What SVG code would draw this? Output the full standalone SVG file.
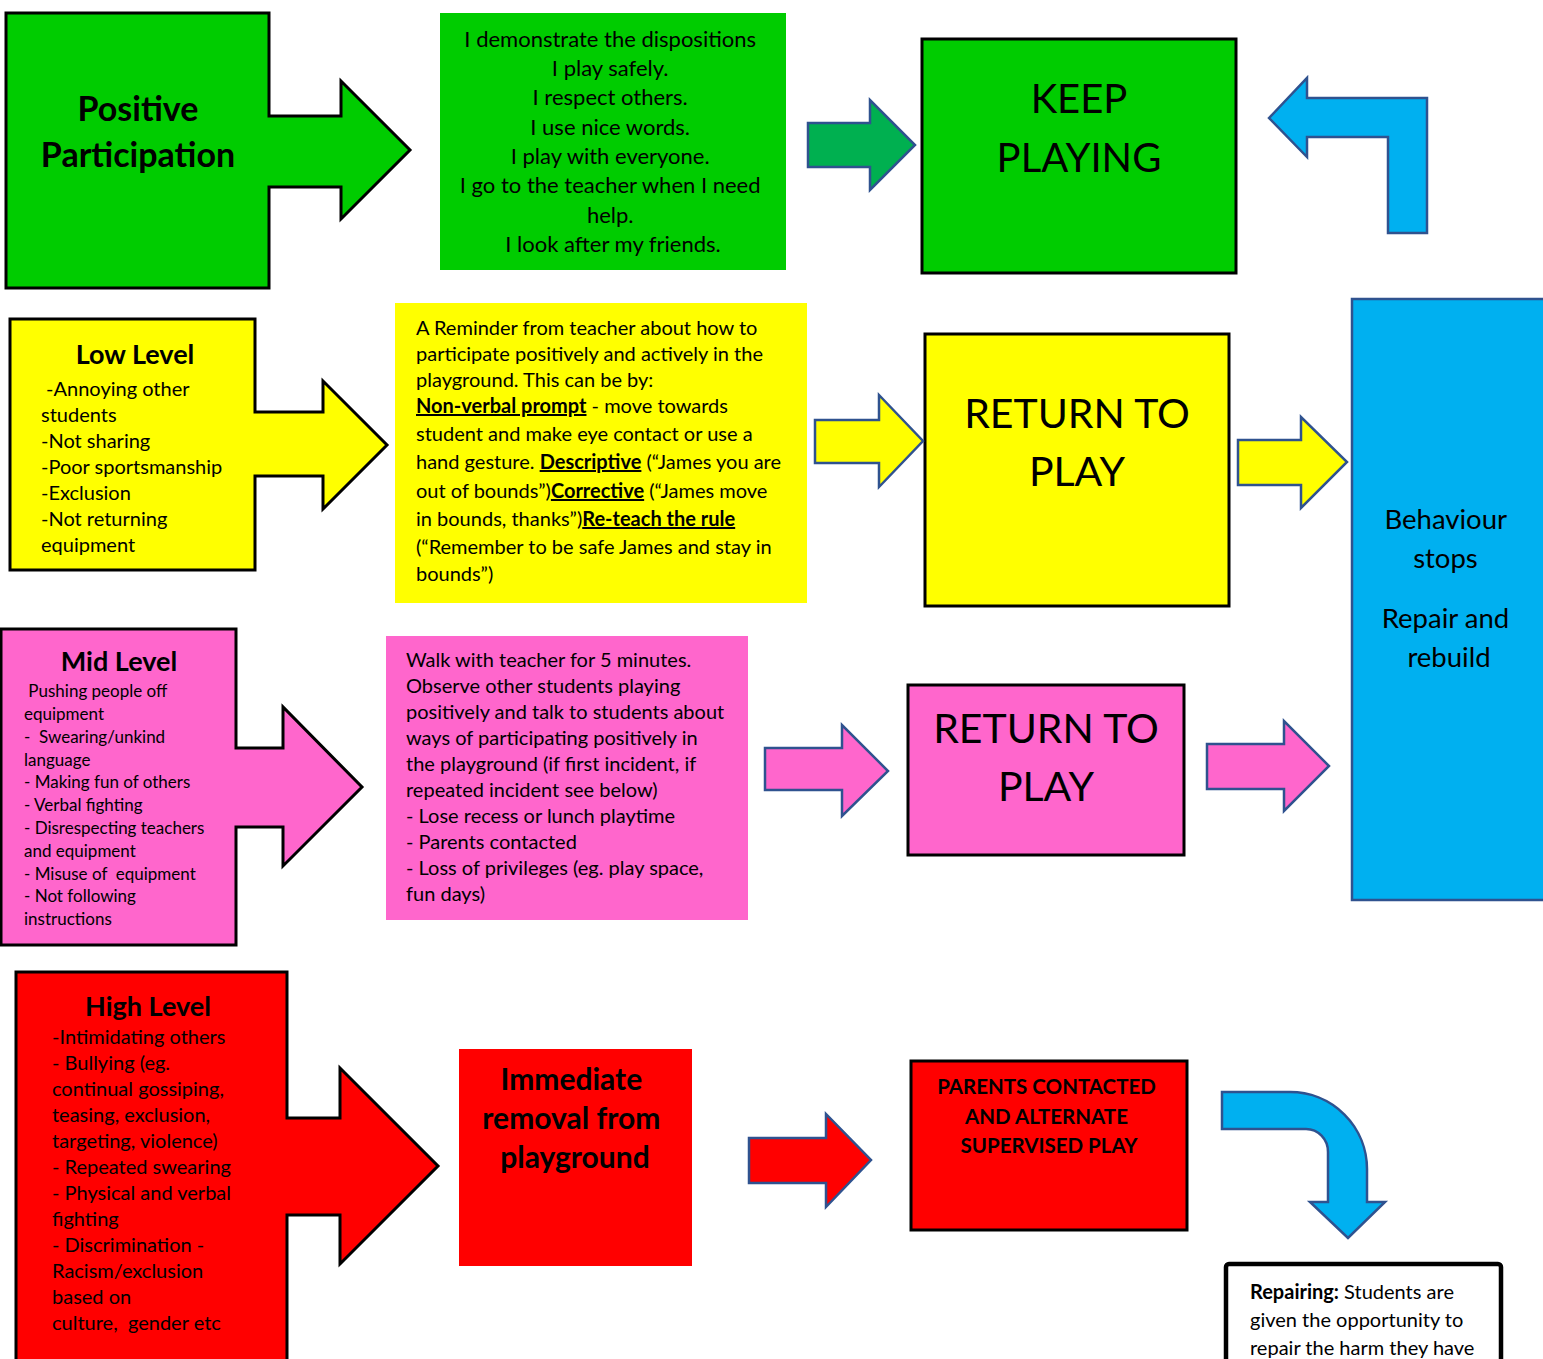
<svg xmlns="http://www.w3.org/2000/svg" width="1543" height="1359" viewBox="0 0 1543 1359">
<style>
text{font-family:Lato,"Liberation Sans",sans-serif;fill:#000}
.b{font-weight:bold}
.c{text-anchor:middle}
.blk{stroke:#000;stroke-width:3}
.arr{stroke:#2F528F;stroke-width:2.5}
.g{fill:#00CC00}.y{fill:#FFFF00}.p{fill:#FF66CC}.r{fill:#FF0000}.bl{fill:#00B0F0}
.s20{font-size:20px}.s17{font-size:17px}
.big{font-size:41px}
.u{text-decoration:underline;font-weight:bold}
</style>
<rect width="1543" height="1359" fill="#fff"/>

<g id="positive">
<path class="g blk" d="M6,13 H269 V116 H341 V81 L410,150 L341,219 V187 H269 V288 H6 Z"/>
<text class="b c" x="138" y="121" font-size="34">Positive</text>
<text class="b c" x="138" y="167" font-size="34">Participation</text>
</g>

<g id="dispositions">
<rect class="g" x="440" y="13" width="346" height="257"/>
<text class="c" font-size="22" x="613">
<tspan x="613" y="47">I demonstrate the dispositions</tspan>
<tspan x="613" y="76">I play safely.</tspan>
<tspan x="613" y="105">I respect others.</tspan>
<tspan x="613" y="135">I use nice words.</tspan>
<tspan x="613" y="164">I play with everyone.</tspan>
<tspan x="613" y="193">I go to the teacher when I need</tspan>
<tspan x="613" y="223">help.</tspan>
<tspan x="613" y="252">I look after my friends.</tspan>
</text>
</g>

<g id="keep">
<rect class="g blk" x="922" y="39" width="314" height="234"/>
<text class="c" font-size="40" x="1079" y="113">KEEP</text>
<text class="c" font-size="40" x="1079" y="172">PLAYING</text>
</g>

<g id="low">
<path class="y blk" d="M10,319 H255 V412 H323 V381 L387,445 L323,509 V476 H255 V570 H10 Z"/>
<text class="b c" x="135" y="364" font-size="27">Low Level</text>
<text class="s20" xml:space="preserve"><tspan x="41" y="396"> -Annoying other</tspan><tspan x="41" y="422">students</tspan><tspan x="41" y="448">-Not sharing</tspan><tspan x="41" y="474">-Poor sportsmanship</tspan><tspan x="41" y="500">-Exclusion</tspan><tspan x="41" y="526">-Not returning</tspan><tspan x="41" y="552">equipment</tspan></text>
</g>

<g id="reminder">
<rect class="y" x="395" y="303" width="412" height="300"/>
<text class="s20">
<tspan x="416" y="335">A Reminder from teacher about how to</tspan>
<tspan x="416" y="361">participate positively and actively in the</tspan>
<tspan x="416" y="387">playground. This can be by:</tspan>
<tspan x="416" y="413"><tspan class="u">Non-verbal prompt</tspan> - move towards</tspan>
<tspan x="416" y="441">student and make eye contact or use a</tspan>
<tspan x="416" y="469">hand gesture. <tspan class="u">Descriptive</tspan> (“James you are</tspan>
<tspan x="416" y="498">out of bounds”)<tspan class="u">Corrective</tspan> (“James move</tspan>
<tspan x="416" y="526">in bounds, thanks”)<tspan class="u">Re-teach the rule</tspan></tspan>
<tspan x="416" y="554">(“Remember to be safe James and stay in</tspan>
<tspan x="416" y="581">bounds”)</tspan>
</text>
</g>

<g id="return-yellow">
<rect class="y blk" x="925" y="334" width="304" height="272"/>
<text class="c big" x="1077" y="428">RETURN TO</text>
<text class="c big" x="1077" y="486">PLAY</text>
</g>

<g id="behaviour">
<rect class="bl" x="1352" y="299" width="200" height="601" stroke="#2F528F" stroke-width="2.5"/>
<text class="c" x="1449" font-size="27.5">
<tspan x="1449" y="529">Behaviour</tspan>
<tspan x="1449" y="568">stops</tspan>
<tspan x="1449" y="628">Repair and</tspan>
<tspan x="1449" y="667">rebuild</tspan>
</text>
</g>

<g id="mid">
<path class="p blk" d="M1,629 H236 V748 H283 V707 L362,787 L283,866 V827 H236 V945 H1 Z"/>
<text class="b c" x="119" y="671" font-size="27">Mid Level</text>
<text class="s17" xml:space="preserve"><tspan x="24" y="697"> Pushing people off</tspan><tspan x="24" y="720">equipment</tspan><tspan x="24" y="743">-  Swearing/unkind</tspan><tspan x="24" y="766">language</tspan><tspan x="24" y="788">- Making fun of others</tspan><tspan x="24" y="811">- Verbal fighting</tspan><tspan x="24" y="834">- Disrespecting teachers</tspan><tspan x="24" y="857">and equipment</tspan><tspan x="24" y="880">- Misuse of  equipment</tspan><tspan x="24" y="902">- Not following</tspan><tspan x="24" y="925">instructions</tspan></text>
</g>

<g id="walk">
<rect class="p" x="386" y="636" width="362" height="284"/>
<text class="s20">
<tspan x="406" y="667">Walk with teacher for 5 minutes.</tspan>
<tspan x="406" y="693">Observe other students playing</tspan>
<tspan x="406" y="719">positively and talk to students about</tspan>
<tspan x="406" y="745">ways of participating positively in</tspan>
<tspan x="406" y="771">the playground (if first incident, if</tspan>
<tspan x="406" y="797">repeated incident see below)</tspan>
<tspan x="406" y="823">- Lose recess or lunch playtime</tspan>
<tspan x="406" y="849">- Parents contacted</tspan>
<tspan x="406" y="875">- Loss of privileges (eg. play space,</tspan>
<tspan x="406" y="901">fun days)</tspan>
</text>
</g>

<g id="return-pink">
<rect class="p blk" x="908" y="685" width="276" height="170"/>
<text class="c big" x="1046" y="743">RETURN TO</text>
<text class="c big" x="1046" y="801">PLAY</text>
</g>

<g id="high">
<path class="r blk" d="M16,972 H287 V1118 H340 V1068 L438,1166 L340,1264 V1215 H287 V1365 H16 Z"/>
<text class="b c" x="148" y="1016" font-size="27">High Level</text>
<text class="s20" xml:space="preserve"><tspan x="52" y="1044">-Intimidating others</tspan><tspan x="52" y="1070">- Bullying (eg.</tspan><tspan x="52" y="1096">continual gossiping,</tspan><tspan x="52" y="1122">teasing, exclusion,</tspan><tspan x="52" y="1148">targeting, violence)</tspan><tspan x="52" y="1174">- Repeated swearing</tspan><tspan x="52" y="1200">- Physical and verbal</tspan><tspan x="52" y="1226">fighting</tspan><tspan x="52" y="1252">- Discrimination -</tspan><tspan x="52" y="1278">Racism/exclusion</tspan><tspan x="52" y="1304">based on</tspan><tspan x="52" y="1330">culture,  gender etc</tspan></text>
</g>

<g id="immediate">
<rect class="r" x="459" y="1049" width="233" height="217"/>
<text class="b c" x="575" font-size="30">
<tspan x="575" y="1090">Immediate</tspan>
<tspan x="575" y="1129">removal from</tspan>
<tspan x="575" y="1168">playground</tspan>
</text>
</g>

<g id="parents">
<rect class="r blk" x="911" y="1061" width="276" height="169"/>
<text class="b c" x="1049" font-size="20.5">
<tspan x="1049" y="1094">PARENTS CONTACTED</tspan>
<tspan x="1049" y="1124">AND ALTERNATE</tspan>
<tspan x="1049" y="1153">SUPERVISED PLAY</tspan>
</text>
</g>

<g id="repairing">
<rect x="1226" y="1264" width="275" height="110" rx="3" fill="#fff" stroke="#000" stroke-width="4.5"/>
<text class="s20">
<tspan x="1250" y="1299"><tspan font-weight="bold">Repairing:</tspan> Students are</tspan>
<tspan x="1250" y="1327">given the opportunity to</tspan>
<tspan x="1250" y="1355">repair the harm they have</tspan>
</text>
</g>

<g id="connectors">
<path fill="#00B050" class="arr" d="M808,123 H870 V100 L915,145 L870,190 V167 H808 Z"/>
<path class="bl arr" d="M1269,118 L1307,78 V98 H1427 V233 H1388 V137 H1307 V157 Z"/>
<path class="y arr" d="M815,420 H879 V395 L923,441 L879,487 V463 H815 Z"/>
<path class="y arr" d="M1238,440 H1301 V417 L1347,462 L1301,508 V485 H1238 Z"/>
<path class="p arr" d="M765,748 H842 V725 L888,771 L842,816 V790 H765 Z"/>
<path class="p arr" d="M1207,744 H1284 V721 L1329,766 L1284,811 V789 H1207 Z"/>
<path class="r arr" d="M749,1138 H826 V1114 L871,1160 L826,1207 V1183 H749 Z"/>
<path class="bl arr" d="M1222,1092 H1290 A77,77 0 0 1 1367,1169 V1202 H1385 L1348,1238 L1310,1202 H1328 V1152 A22,23 0 0 0 1306,1129 H1222 Z"/>
</g>
</svg>
